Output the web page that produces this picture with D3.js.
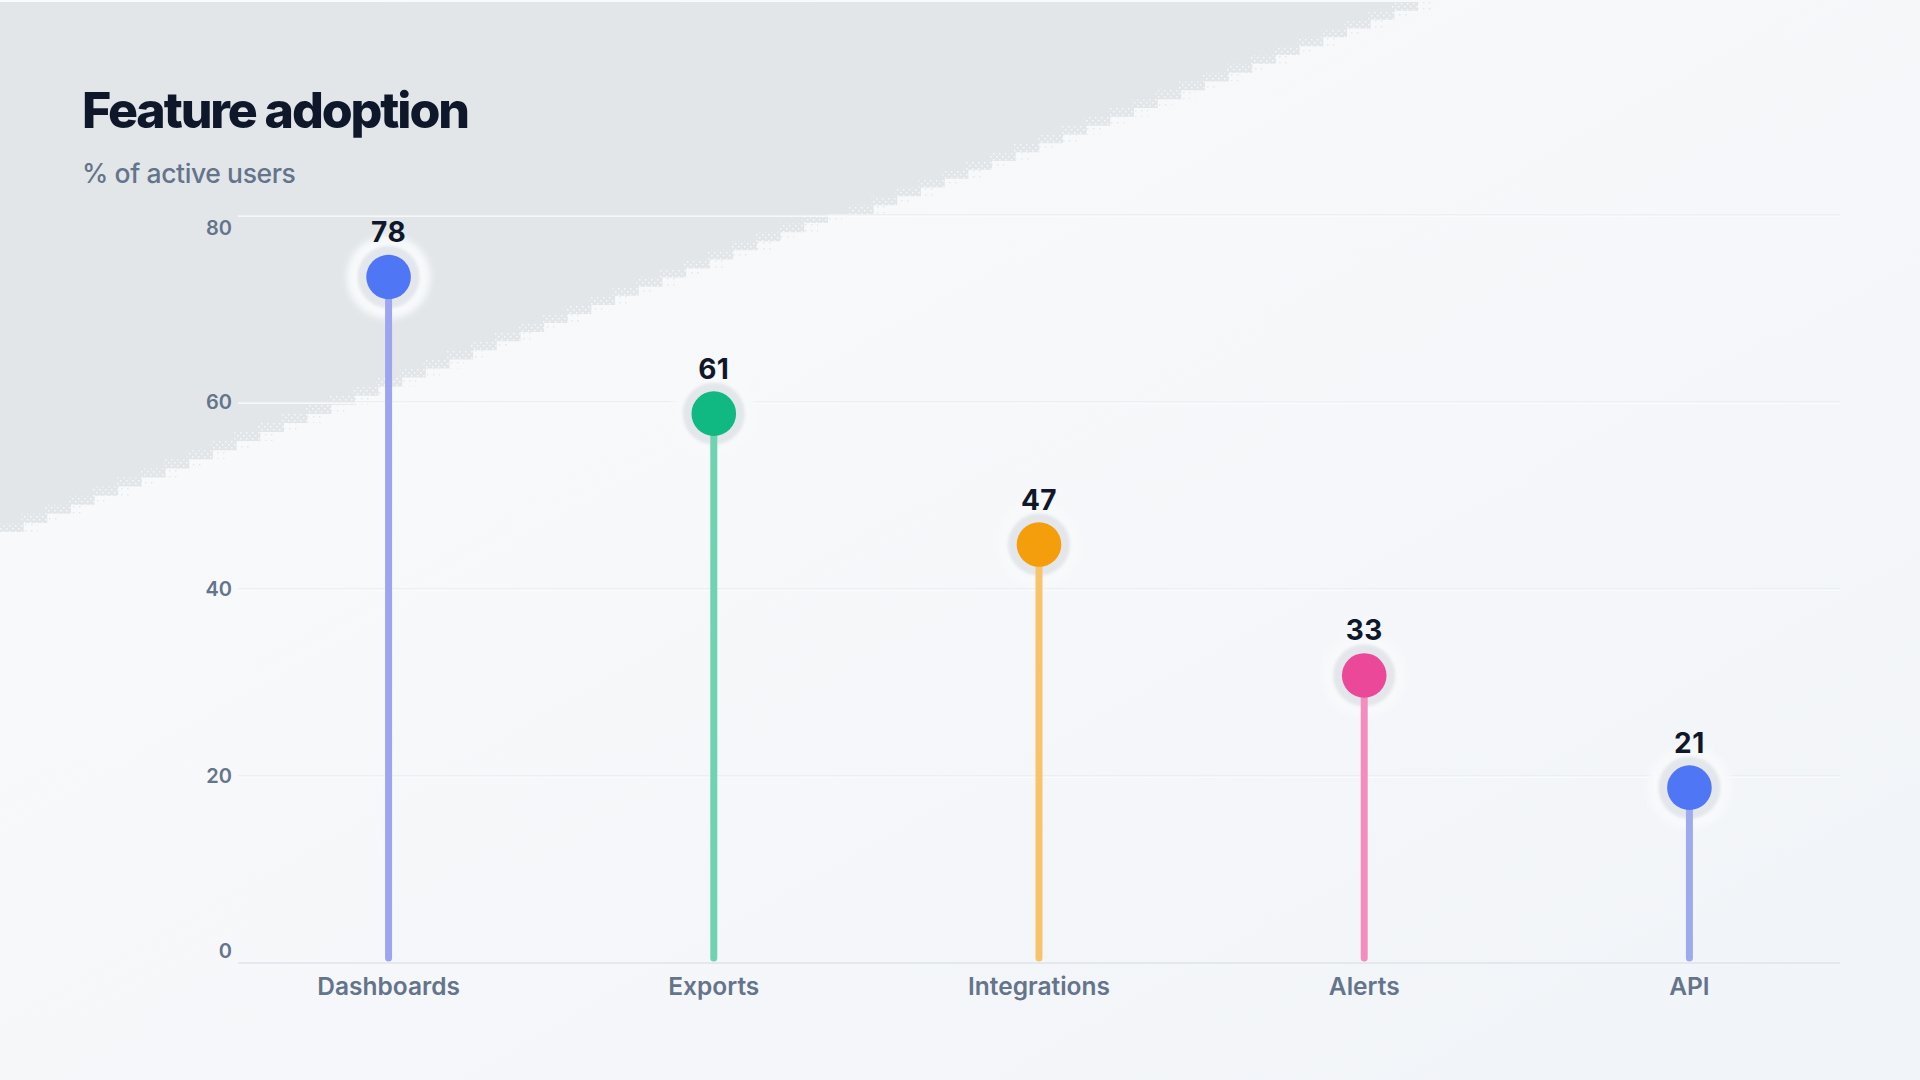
<!DOCTYPE html>
<html>
<head>
<meta charset="utf-8">
<script src="https://cdn.jsdelivr.net/npm/d3@7"></script>
<style>
  html, body { margin: 0; padding: 0; width: 1920px; height: 1080px; overflow: hidden; background: #f8fafc; }
  svg { display: block; font-family: Inter, "Noto Sans", sans-serif; }
</style>
</head>
<body>
<svg id="chart" width="1920" height="1080"></svg>
<script>
// ---- data ----
const categories = ["Dashboards", "Exports", "Integrations", "Alerts", "API"];
const values = [78, 61, 47, 33, 21];
const yTicks = [0, 20, 40, 60, 80];
const titleText = "Feature adoption";
const subtitleText = "% of active users";

// ---- style constants ----
const dotColors = ["#4f77f5", "#10b981", "#f59e0b", "#ec4899", "#4f77f5"];
const stemColors = ["#9ca6ee", "#6fd3b1", "#f7c46c", "#f28ebe", "#9eaaee"];

const W = 1920, H = 1080;
const plot = { left: 238, right: 1840, top: 215, bottom: 963 };

const svg = d3.select("#chart");
const defs = svg.append("defs");

// background gradient
const bg = defs.append("linearGradient").attr("id", "bgGrad")
  .attr("x1", "0").attr("y1", "0").attr("x2", "1").attr("y2", "1");
bg.append("stop").attr("offset", "0%").attr("stop-color", "#fafbfc");
bg.append("stop").attr("offset", "100%").attr("stop-color", "#f1f4f8");

// dither patterns
const pIn = defs.append("pattern").attr("id", "ditherIn").attr("patternUnits", "userSpaceOnUse")
  .attr("width", 6).attr("height", 6);
pIn.append("rect").attr("x", 0).attr("y", 0).attr("width", 1.5).attr("height", 1.5).attr("fill", "#f6f8fa");
pIn.append("rect").attr("x", 3).attr("y", 3).attr("width", 1.5).attr("height", 1.5).attr("fill", "#f6f8fa");
const pOut = defs.append("pattern").attr("id", "ditherOut").attr("patternUnits", "userSpaceOnUse")
  .attr("width", 6).attr("height", 6);
pOut.append("rect").attr("x", 1).attr("y", 2).attr("width", 1.5).attr("height", 1.5).attr("fill", "#e6e9ec");

const glow = defs.append("filter").attr("id", "glow").attr("x", "-50%").attr("y", "-50%").attr("width", "200%").attr("height", "200%");
glow.append("feGaussianBlur").attr("stdDeviation", 3);
const soft = defs.append("filter").attr("id", "soft").attr("x", "-50%").attr("y", "-50%").attr("width", "200%").attr("height", "200%");
soft.append("feGaussianBlur").attr("stdDeviation", 1.6);

svg.append("rect").attr("width", W).attr("height", H).attr("fill", "url(#bgGrad)");

// decorative stepped grey panel (top-left)
function stairs(x0, y0, x1, y1, stepH) {
  const n = Math.max(1, Math.round((y1 - y0) / stepH));
  let s = "";
  for (let i = 1; i <= n; i++) {
    const yy = y0 + (y1 - y0) * i / n;
    const xx = x0 + (x1 - x0) * i / n;
    s += ` V ${yy.toFixed(1)} H ${xx.toFixed(1)}`;
  }
  return s;
}
function panelPath(dx) {
  return `M 0 2 H ${1418 + dx}` + stairs(1418 + dx, 2, 850 + dx, 214, 9) +
    ` H ${828 + dx}` + stairs(828 + dx, 214, 0 + dx, 532, 9) + ` L 0 ${532 - dx * 0.38} Z`;
}
svg.append("path").attr("d", panelPath(0)).attr("fill", "#e3e6e9");
svg.append("path").attr("d", panelPath(0) + " " + panelPath(-26))
  .attr("fill-rule", "evenodd").attr("fill", "url(#ditherIn)");
svg.append("path").attr("d", panelPath(14) + " " + panelPath(0))
  .attr("fill-rule", "evenodd").attr("fill", "url(#ditherOut)");

// ---- scales ----
const x = d3.scalePoint().domain(categories).range([plot.left, plot.right]).padding(0.463);
const y = d3.scaleLinear().domain([0, 80]).range([plot.bottom, plot.top]);

// ---- grid ----
const gridVals = yTicks.filter(t => t > 0);
const grid = svg.append("g");
grid.selectAll("line.g").data(gridVals).join("line")
  .attr("x1", plot.left).attr("x2", plot.right)
  .attr("y1", d => y(d)).attr("y2", d => y(d))
  .attr("stroke", "#e4e7eb").attr("stroke-width", 1.2);
grid.selectAll("line.w").data(gridVals).join("line")
  .attr("x1", plot.left).attr("x2", plot.right)
  .attr("y1", d => y(d) + 1.2).attr("y2", d => y(d) + 1.2)
  .attr("stroke", "#fbfcfd").attr("stroke-width", 1.2);
svg.append("line")
  .attr("x1", plot.left).attr("x2", plot.right)
  .attr("y1", y(0)).attr("y2", y(0))
  .attr("stroke", "#dfe3e8").attr("stroke-width", 1.6);

// y tick labels (kept inside the plot band)
svg.append("g").selectAll("text").data(yTicks).join("text")
  .attr("x", plot.left - 6)
  .attr("y", d => Math.min(Math.max(y(d), plot.top + 13), plot.bottom - 12))
  .attr("text-anchor", "end").attr("dominant-baseline", "central")
  .attr("font-size", 20).attr("font-weight", 600).attr("fill", "#64748b")
  .text(d => d);

// category labels
svg.append("g").selectAll("text").data(categories).join("text")
  .attr("x", d => x(d)).attr("y", plot.bottom + 32)
  .attr("text-anchor", "middle")
  .attr("font-size", 24.5).attr("font-weight", 600).attr("fill", "#64748b")
  .text(d => d);

// ---- lollipops ----
const markShift = 21;
const labelGap = 35;
const dotY = v => Math.max(y(v) + markShift, plot.top + 62);

const items = categories.map((c, i) => ({ c, v: values[i], i }));
const g = svg.append("g");

g.selectAll("circle.glow").data(items).join("circle")
  .attr("cx", d => x(d.c)).attr("cy", d => dotY(d.v)).attr("r", 42)
  .attr("fill", "#f7f9fb").attr("filter", "url(#glow)");
g.selectAll("circle.ring").data(items).join("circle")
  .attr("cx", d => x(d.c)).attr("cy", d => dotY(d.v)).attr("r", 31)
  .attr("fill", "#e3e6ea").attr("filter", "url(#soft)");
g.selectAll("line.stem").data(items).join("line")
  .attr("x1", d => x(d.c)).attr("x2", d => x(d.c))
  .attr("y1", y(0) - 5).attr("y2", d => dotY(d.v))
  .attr("stroke", d => stemColors[d.i]).attr("stroke-width", 7).attr("stroke-linecap", "round");
g.selectAll("circle.dot").data(items).join("circle")
  .attr("cx", d => x(d.c)).attr("cy", d => dotY(d.v)).attr("r", 22.3)
  .attr("fill", d => dotColors[d.i]);

g.selectAll("text.val").data(items).join("text")
  .attr("x", d => x(d.c)).attr("y", d => dotY(d.v) - labelGap)
  .attr("text-anchor", "middle")
  .attr("font-size", 28).attr("font-weight", 700).attr("fill", "#0f172a")
  .attr("letter-spacing", "0.5px")
  .text(d => d.v);

// ---- titles ----
svg.append("text").attr("x", 82).attr("y", 128)
  .attr("font-size", 50).attr("font-weight", 800).attr("fill", "#0f172a")
  .attr("letter-spacing", "-2.1px")
  .text(titleText);
svg.append("text").attr("x", 82).attr("y", 183)
  .attr("font-size", 26.5).attr("font-weight", 500).attr("fill", "#64748b")
  .attr("letter-spacing", "-0.4px")
  .text(subtitleText);
</script>
</body>
</html>
